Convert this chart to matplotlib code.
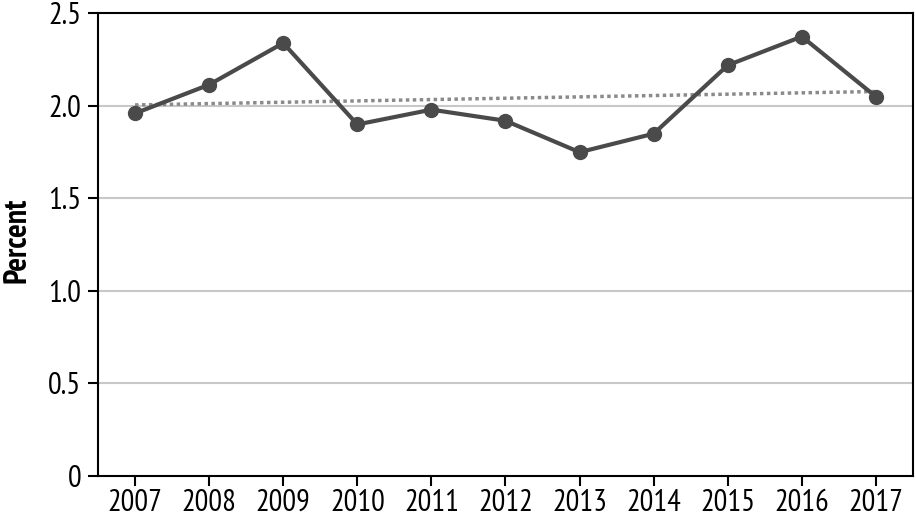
import matplotlib
matplotlib.use("Agg")
import matplotlib.pyplot as plt
import numpy as np

years = [2007, 2008, 2009, 2010, 2011, 2012, 2013, 2014, 2015, 2016, 2017]
percent = [1.96, 2.115, 2.34, 1.90, 1.98, 1.92, 1.75, 1.85, 2.22, 2.375, 2.05]
yticks = [0, 0.5, 1.0, 1.5, 2.0, 2.5]
ytick_labels = ["0", "0.5", "1.0", "1.5", "2.0", "2.5"]

plt.rcParams['font.family'] = ['PT Sans Narrow', 'DejaVu Sans']

fig = plt.figure(figsize=(9.16, 5.17), dpi=100)
ax = fig.add_axes([0.107, 0.0793, 0.8897, 0.8947])

coef = np.polyfit(years, percent, 1)
trend = np.polyval(coef, [years[0], years[-1]])

for y in yticks[1:-1]:
    ax.axhline(y, color="#c8c8c8", lw=1.5, zorder=1)

ax.plot([years[0], years[-1]], trend, color="#8a8a8a", lw=2.5, ls=(0, (1, 1.0)), zorder=2)
ax.plot(years, percent, color="#4a4a4a", lw=3, marker="o", markersize=10, zorder=3)

ax.set_xlim(2006.5, 2017.5)
ax.set_ylim(0, 2.5)
ax.set_xticks(years)
ax.set_xticklabels([str(y) for y in years])
ax.set_yticks(yticks)
ax.set_yticklabels(ytick_labels)
ax.tick_params(axis="both", direction="out", length=7, width=1.5, labelsize=22, colors="black")
ax.tick_params(axis="y", pad=5)
ax.tick_params(axis="x", pad=2)
for s in ax.spines.values():
    s.set_linewidth(1.5)
    s.set_color("black")
ax.set_ylabel("Percent", fontsize=23, fontweight="bold")
ax.yaxis.set_label_coords((2 - 98) / 815, 0.51)
ax.yaxis.label.set_verticalalignment("top")

fig.savefig("out.png", dpi=100)
